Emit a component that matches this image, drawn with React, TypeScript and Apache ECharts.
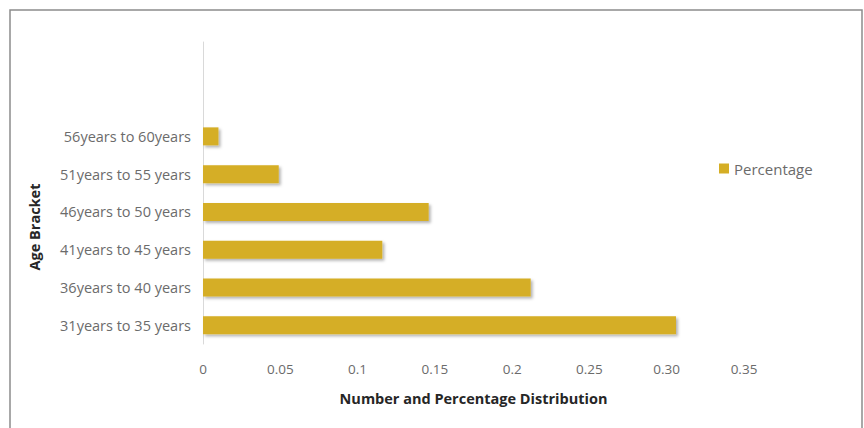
import React, { useEffect, useRef } from "react";
import * as echarts from "echarts";

const categories = [
  "31years to 35 years",
  "36years to 40 years",
  "41years to 45 years",
  "46years to 50 years",
  "51years to 55 years",
  "56years to 60years",
  "",
  "",
];
const percentage: (number | null)[] = [0.306, 0.212, 0.116, 0.146, 0.049, 0.01, null, null];
const xTicks = { min: 0, max: 0.35, interval: 0.05 };
const seriesName = "Percentage";
const xTitle = "Number and Percentage Distribution";
const yTitle = "Age Bracket";

const FONT = "'Open Sans', 'Noto Sans', sans-serif";

export default function App() {
  const ref = useRef<HTMLDivElement>(null);
  useEffect(() => {
    if (!ref.current) return;
    const chart = echarts.init(ref.current, null, { renderer: "svg" });
    chart.setOption({
      animation: false,
      backgroundColor: "#ffffff",
      textStyle: { fontFamily: FONT },
      grid: { left: 203, right: 120, top: 42, bottom: 84, containLabel: false },
      legend: {
        data: [seriesName],
        left: 714,
        top: 156,
        itemWidth: 10,
        itemHeight: 10,
        icon: "rect",
        itemGap: 6,
        textStyle: { color: "#6b6b6b", fontSize: 15, fontFamily: FONT },
      },
      xAxis: {
        type: "value",
        min: xTicks.min,
        max: xTicks.max,
        interval: xTicks.interval,
        axisLine: { show: false },
        axisTick: { show: false },
        splitLine: { show: false },
        axisLabel: {
          color: "#6b6b6b",
          fontSize: 13.5,
          margin: 18,
          fontFamily: FONT,
          formatter: (v: number) =>
            Math.abs(v - 0.3) < 1e-9 ? "0.30" : String(+v.toFixed(2)),
        },
        name: xTitle,
        nameLocation: "middle",
        nameGap: 47,
        nameTextStyle: { color: "#262626", fontSize: 14.5, fontWeight: "bold", fontFamily: FONT },
      },
      yAxis: {
        type: "category",
        data: categories,
        axisLine: { show: true, lineStyle: { color: "#d9d9d9", width: 1 } },
        axisTick: { show: false },
        splitLine: { show: false },
        axisLabel: { color: "#6b6b6b", fontSize: 14.5, margin: 12, fontFamily: FONT },
      },
      series: [
        {
          name: seriesName,
          type: "bar",
          data: percentage,
          barWidth: 18,
          itemStyle: {
            color: "#D5AE25",
            shadowColor: "rgba(0,0,0,0.3)",
            shadowBlur: 3,
            shadowOffsetX: 2,
            shadowOffsetY: 2,
          },
        },
      ],
      graphic: [
        {
          type: "rect",
          shape: { x: 10, y: 10, width: 852, height: 440 },
          style: { fill: "none", stroke: "#8c8c8c", lineWidth: 1.5 },
          silent: true,
        },
        {
          type: "text",
          x: 34,
          y: 227,
          rotation: Math.PI / 2,
          style: {
            text: yTitle,
            fill: "#262626",
            font: `bold 14.5px ${FONT}`,
            align: "center",
            verticalAlign: "middle",
          },
        },
      ],
    });
    return () => chart.dispose();
  }, []);
  return (
    <div
      ref={ref}
      style={{ position: "fixed", left: 0, top: 0, width: 864, height: 428 }}
    />
  );
}
